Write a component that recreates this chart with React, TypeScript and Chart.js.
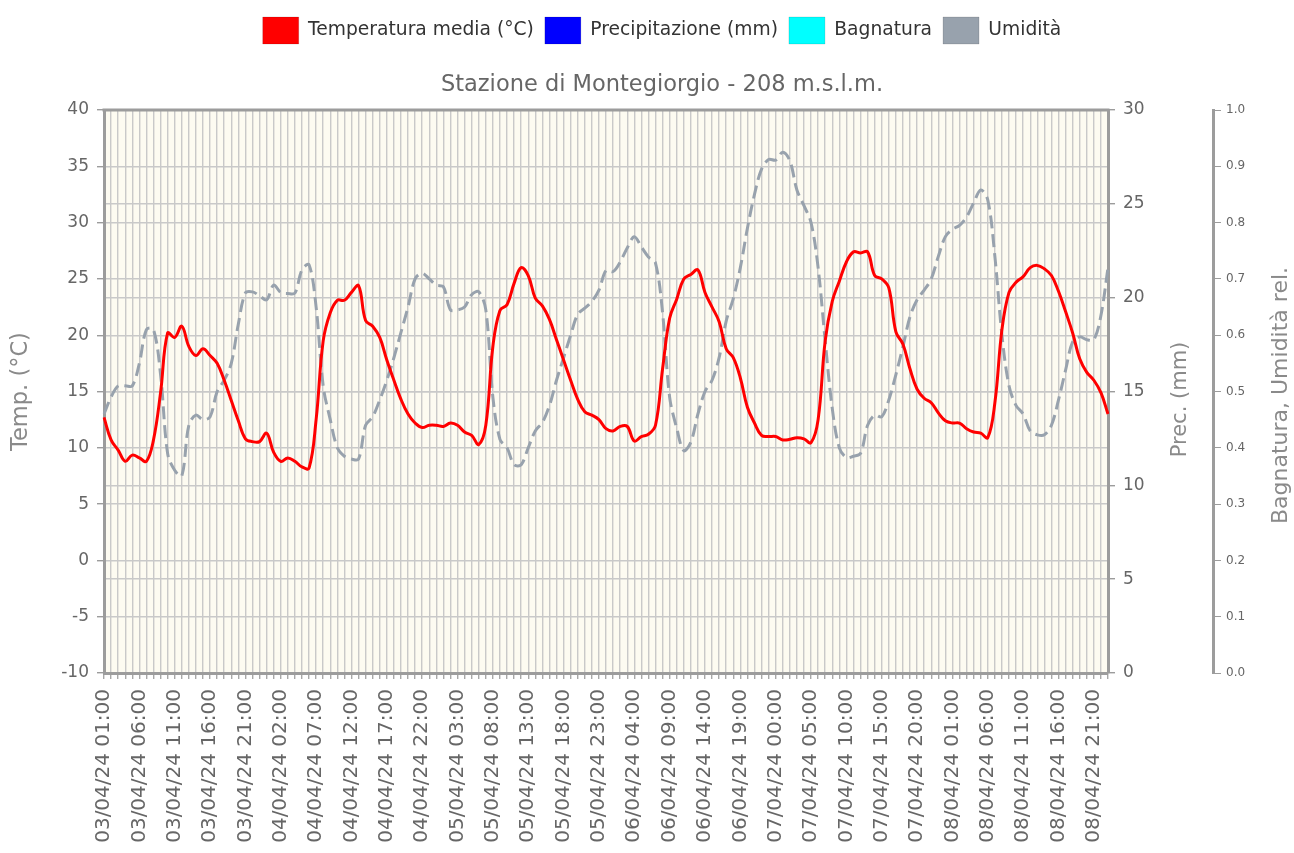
import React, { useEffect, useRef } from 'react';
import { Chart, registerables } from 'chart.js';

Chart.register(...registerables);

// ---- categories (hourly, 03/04/24 01:00 -> 08/04/24 23:00) ----
const DAYS = ['03', '04', '05', '06', '07', '08'];
const HOURS_COUNT = 143;
const categories: string[] = [];
for (let i = 0; i < HOURS_COUNT; i++) {
  const h = i + 1;
  categories.push(`${DAYS[Math.floor(h / 24)]}/04/24 ${String(h % 24).padStart(2, '0')}:00`);
}
const LABEL_EVERY = 5;

// ---- series ----
const temperature = [
  12.7, 10.7, 9.8, 8.8, 9.35, 9.1, 8.8, 10.7, 14.9, 20.2,
  19.8, 20.8, 19.0, 18.2, 18.8, 18.2, 17.5, 16.0, 14.2, 12.4,
  10.8, 10.55, 10.55, 11.3, 9.6, 8.8, 9.1, 8.8, 8.3, 8.2,
  12.5, 19.5, 22.0, 23.1, 23.1, 23.8, 24.4, 21.3, 20.8, 19.8,
  17.8, 16.0, 14.3, 13.0, 12.2, 11.8, 12.0, 12.0, 11.9, 12.2,
  12.0, 11.4, 11.1, 10.3, 12.0, 19.0, 22.2, 22.7, 24.6, 26.0,
  25.3, 23.3, 22.6, 21.4, 19.6, 17.8, 16.0, 14.3, 13.2, 12.9,
  12.5, 11.7, 11.5, 11.9, 11.9, 10.6, 11.0, 11.2, 12.0, 17.0,
  21.5, 23.2, 25.0, 25.4, 25.8, 23.8, 22.5, 21.2, 18.8, 18.0,
  16.2, 13.6, 12.2, 11.1, 11.0, 11.0, 10.7, 10.75, 10.9, 10.8,
  10.45, 12.5, 19.5, 23.0, 24.8, 26.5, 27.4, 27.3, 27.4, 25.3,
  25.0, 24.2, 20.3, 19.2, 17.0, 15.2, 14.4, 14.0, 13.1, 12.4,
  12.2, 12.2, 11.7, 11.4, 11.3, 10.9, 14.0, 20.5, 23.8, 24.7,
  25.2, 26.0, 26.2, 25.9, 25.3, 23.9, 22.1, 20.2, 17.9, 16.7,
  16.0, 14.9, 13.0,
];

const humidity = [
  0.46, 0.49, 0.51, 0.51, 0.51, 0.55, 0.61, 0.61, 0.53, 0.39,
  0.36, 0.35, 0.44, 0.458, 0.45, 0.455, 0.50, 0.52, 0.55, 0.62,
  0.675, 0.677, 0.67, 0.663, 0.689, 0.676, 0.674, 0.675, 0.716, 0.725,
  0.65, 0.51, 0.45, 0.40, 0.385, 0.38, 0.38, 0.44, 0.455, 0.485,
  0.52, 0.56, 0.605, 0.65, 0.70, 0.71, 0.70, 0.689, 0.686, 0.645,
  0.645, 0.65, 0.672, 0.677, 0.645, 0.49, 0.415, 0.40, 0.37, 0.37,
  0.40, 0.43, 0.445, 0.475, 0.52, 0.56, 0.60, 0.637, 0.648, 0.66,
  0.68, 0.715, 0.713, 0.73, 0.755, 0.775, 0.757, 0.739, 0.728, 0.64,
  0.49, 0.435, 0.395, 0.41, 0.46, 0.50, 0.52, 0.56, 0.625, 0.665,
  0.72, 0.79, 0.85, 0.895, 0.912, 0.911, 0.925, 0.91, 0.858, 0.83,
  0.80, 0.72, 0.59, 0.47, 0.40, 0.383, 0.385, 0.39, 0.44, 0.458,
  0.455, 0.485, 0.53, 0.58, 0.633, 0.663, 0.68, 0.70, 0.74, 0.775,
  0.788, 0.795, 0.81, 0.835, 0.858, 0.84, 0.74, 0.60, 0.51, 0.475,
  0.46, 0.43, 0.423, 0.423, 0.44, 0.485, 0.538, 0.588, 0.597, 0.592,
  0.592, 0.635, 0.72,
];

// no precipitation / wetness recorded in the period
const precipitation: number[] = [];
const wetness: number[] = [];

const seriesNames = ['Temperatura media (°C)', 'Precipitazione (mm)', 'Bagnatura', 'Umidità'];
const seriesColors = ['#ff0000', '#0000ff', '#00ffff', '#98a2ad'];

const TITLE = 'Stazione di Montegiorgio - 208 m.s.l.m.';
const AXIS_TITLES = ['Temp. (°C)', 'Prec. (mm)', 'Bagnatura, Umidità rel.'];

const FONT = 'DejaVu Sans';
const GRID = '#c9c9c9';
const AXIS = '#9c9c9c';
const TICK_TXT = '#666666';
const TITLE_TXT = '#8a8a8a';

const framePlugin = {
  id: 'frame',
  afterLayout(chart: any) {
    const shift = 15;
    if (chart.legend) { chart.legend.left += shift; chart.legend.right += shift; }
    if (chart.titleBlock) { chart.titleBlock.left += shift; chart.titleBlock.right += shift; }
  },
  beforeDraw(chart: any) {
    const { ctx, chartArea: a } = chart;
    ctx.save();
    ctx.fillStyle = '#fdfbf1';
    ctx.fillRect(a.left, a.top, a.right - a.left, a.bottom - a.top);
    ctx.restore();
  },
  beforeDatasetsDraw(chart: any) {
    const { ctx, chartArea: a } = chart;
    ctx.save();
    ctx.strokeStyle = AXIS;
    ctx.lineWidth = 3;
    ctx.beginPath();
    ctx.moveTo(a.left - 1.5, a.top);
    ctx.lineTo(a.right + 1.5, a.top);
    ctx.stroke();
    ctx.restore();
  },
  afterDraw(chart: any) {
    const { ctx, chartArea: a } = chart;
    ctx.save();
    ctx.fillStyle = TITLE_TXT;
    ctx.textAlign = 'center';
    ctx.textBaseline = 'middle';
    const mid = (a.top + a.bottom) / 2;
    ctx.save();
    ctx.font = `21px "${FONT}"`;
    ctx.translate(1181, mid + 8);
    ctx.rotate(-Math.PI / 2);
    ctx.fillText(AXIS_TITLES[1], 0, 0);
    ctx.restore();
    ctx.save();
    ctx.font = `22px "${FONT}"`;
    ctx.translate(1281, mid + 4);
    ctx.rotate(-Math.PI / 2);
    ctx.fillText(AXIS_TITLES[2], 0, 0);
    ctx.restore();
    ctx.restore();
  },
};

export default function App() {
  const ref = useRef<HTMLCanvasElement | null>(null);

  useEffect(() => {
    if (!ref.current) return;
    Chart.defaults.font.family = FONT;
    const chart = new Chart(ref.current, {
      type: 'line',
      data: {
        labels: categories,
        datasets: [
          {
            label: seriesNames[0], data: temperature, yAxisID: 'y',
            borderColor: seriesColors[0], backgroundColor: seriesColors[0],
            borderWidth: 3, pointRadius: 0, tension: 0.4, order: 1,
          },
          {
            type: 'bar', label: seriesNames[1], data: precipitation, yAxisID: 'y2',
            backgroundColor: seriesColors[1],
          } as any,
          {
            type: 'bar', label: seriesNames[2], data: wetness, yAxisID: 'y3',
            backgroundColor: seriesColors[2],
          } as any,
          {
            label: seriesNames[3], data: humidity, yAxisID: 'y3',
            borderColor: seriesColors[3], backgroundColor: seriesColors[3],
            borderWidth: 3, borderDash: [13, 6], pointRadius: 0, tension: 0.35, order: 2,
          },
        ],
      },
      options: {
        responsive: false,
        animation: false,
        devicePixelRatio: 1,
        layout: { padding: { top: 6, left: 0, right: 0, bottom: 0 } },
        plugins: {
          legend: {
            position: 'top',
            weight: 3000,
            labels: {
              boxWidth: 36, boxHeight: 27, padding: 11, color: '#333',
              font: { size: 18.7, family: FONT },
              generateLabels: () => seriesNames.map((t, i) => ({
                text: t, fillStyle: seriesColors[i], strokeStyle: 'rgba(0,0,0,0.12)',
                lineWidth: 1, hidden: false, datasetIndex: i, fontColor: '#333',
              })),
            },
          },
          title: {
            display: true, text: TITLE, color: '#666',
            weight: 500,
            font: { size: 22.5, weight: 'normal', family: FONT },
            padding: { top: 18, bottom: 11 },
          },
          tooltip: { enabled: false },
        },
        scales: {
          x: {
            type: 'category', offset: false,
            grid: { display: true, color: GRID, lineWidth: 1.4, drawTicks: true, tickLength: 6, tickColor: '#a8a8a8', offset: false },
            border: { display: true, color: AXIS, width: 3 },
            ticks: {
              autoSkip: false, maxRotation: 90, minRotation: 90, padding: 10, color: TICK_TXT,
              font: { size: 20, family: FONT },
              callback: (_v: any, i: number) => (i % LABEL_EVERY === 0 ? categories[i] : ''),
            },
            afterFit: (s: any) => { s.height = 180; },
          },
          y: {
            position: 'left', min: -10, max: 40,
            ticks: { stepSize: 5, color: TICK_TXT, font: { size: 17, family: FONT }, padding: 8 },
            grid: { color: GRID, lineWidth: 1.4, tickLength: 7, tickColor: AXIS },
            border: { display: true, color: AXIS, width: 3 },
            title: { display: true, text: AXIS_TITLES[0], color: TITLE_TXT, font: { size: 22.5, family: FONT }, padding: { top: 8, bottom: 0 } },
            afterFit: (s: any) => { s.width = 104; },
          },
          y2: {
            position: 'right', min: 0, max: 30,
            ticks: { stepSize: 5, color: TICK_TXT, font: { size: 17, family: FONT }, padding: 8 },
            grid: { color: GRID, lineWidth: 1.4, drawOnChartArea: true, tickLength: 7, tickColor: AXIS },
            border: { display: true, color: AXIS, width: 3 },
            afterFit: (s: any) => { s.width = 105; },
          },
          y3: {
            position: 'right', min: 0, max: 1,
            ticks: { stepSize: 0.1, color: TICK_TXT, font: { size: 12, family: FONT }, padding: 5,
              callback: (v: any) => Number(v).toFixed(1) },
            grid: { drawOnChartArea: false, tickLength: 8, tickColor: AXIS },
            border: { display: true, color: AXIS, width: 3 },
            afterFit: (s: any) => { s.width = 81; },
          },
        },
      } as any,
      plugins: [framePlugin],
    });
    return () => chart.destroy();
  }, []);

  return (
    <div style={{ position: 'absolute', left: 0, top: 0, width: 1294, height: 853 }}>
      <canvas ref={ref} width={1294} height={853} />
    </div>
  );
}
